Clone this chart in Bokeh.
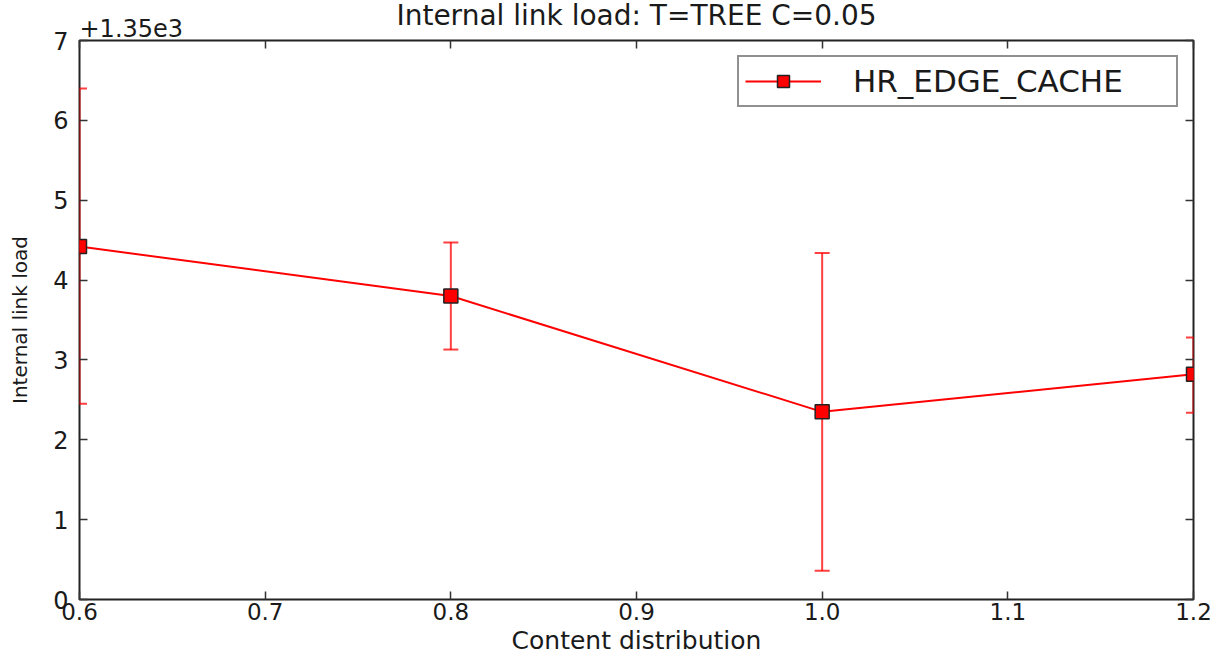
from bokeh.plotting import figure
from bokeh.models import (Range1d, LinearAxis, FixedTicker, PrintfTickFormatter,
                          Title, Legend, LegendItem, ColumnDataSource)
from bokeh.embed import file_html
from bokeh.resources import INLINE

# ---- data ----
offset = 1350.0
x_vals = [0.6, 0.8, 1.0, 1.2]
y_raw = [1354.42, 1353.80, 1352.35, 1352.82]
y_upper_raw = [1356.40, 1354.47, 1354.34, 1353.28]
y_lower_raw = [1352.45, 1353.13, 1350.36, 1352.34]
x_ticks = [0.6, 0.7, 0.8, 0.9, 1.0, 1.1, 1.2]
y_ticks = [0, 1, 2, 3, 4, 5, 6, 7]
series_name = "HR_EDGE_CACHE"
offset_text = "+1.35e3"

y_vals = [v - offset for v in y_raw]
y_up = [v - offset for v in y_upper_raw]
y_lo = [v - offset for v in y_lower_raw]

FONT = "DejaVu Sans"
RED = "#ff0000"
INK = "#1a1a1a"

p = figure(width=1217, height=661, output_backend="svg", toolbar_location=None,
           x_range=Range1d(0.6, 1.2), y_range=Range1d(0, 7),
           min_border_left=79, min_border_right=24, min_border_top=40, min_border_bottom=62)
p.outline_line_color = "#222222"
p.outline_line_width = 2
p.grid.visible = False
p.background_fill_color = "white"
p.border_fill_color = "white"

p.title.text = "Internal link load: T=TREE C=0.05"
p.title.align = "center"
p.title.text_font = FONT
p.title.text_font_size = "28px"
p.title.text_font_style = "normal"
p.title.text_color = INK
p.title.offset = 0
p.title.standoff = -39

for ax in (p.xaxis[0], p.yaxis[0]):
    ax.axis_line_color = None
    ax.major_tick_in = 8
    ax.major_tick_out = 0
    ax.minor_tick_line_color = None
    ax.major_tick_line_color = "#333333"
    ax.major_tick_line_width = 1.5
    ax.major_label_text_font = FONT
    ax.major_label_text_font_size = "24px"
    ax.major_label_text_color = INK
    ax.axis_label_text_font = FONT
    ax.axis_label_text_font_style = "normal"
    ax.axis_label_text_color = INK

p.xaxis[0].ticker = FixedTicker(ticks=x_ticks)
p.xaxis[0].formatter = PrintfTickFormatter(format="%.1f")
p.xaxis[0].axis_label = "Content distribution"
p.xaxis[0].axis_label_text_font_size = "25px"
p.xaxis[0].major_label_text_font_size = "23px"
p.xaxis[0].major_label_standoff = 3
p.xaxis[0].axis_label_standoff = 3

p.yaxis[0].ticker = FixedTicker(ticks=y_ticks)
p.yaxis[0].axis_label = "Internal link load"
p.yaxis[0].axis_label_text_font_size = "20px"
p.yaxis[0].major_label_standoff = 11
p.yaxis[0].axis_label_standoff = 18

# mirrored ticks on top and right (no labels)
top = LinearAxis(ticker=FixedTicker(ticks=x_ticks),
                 major_label_overrides={t: "" for t in x_ticks},
                 major_label_standoff=0,
                 axis_line_color=None, major_tick_in=8, major_tick_out=0,
                 minor_tick_line_color=None, major_tick_line_color="#333333",
                 major_tick_line_width=1.5)
right = LinearAxis(ticker=FixedTicker(ticks=y_ticks),
                   major_label_overrides={t: "" for t in y_ticks},
                   major_label_standoff=0,
                   axis_line_color=None, major_tick_in=8, major_tick_out=0,
                   minor_tick_line_color=None, major_tick_line_color="#333333",
                   major_tick_line_width=1.5)
p.add_layout(top, "above")
p.add_layout(right, "right")

# axis offset text, left-aligned with the frame
p.add_layout(Title(text=offset_text, align="left", offset=0, standoff=8,
                   text_font=FONT, text_font_size="24px", text_font_style="normal",
                   text_color=INK), "above")

src = ColumnDataSource(dict(x=x_vals, y=y_vals, up=y_up, lo=y_lo))

# error bars
p.segment(x0="x", y0="lo", x1="x", y1="up", source=src, line_color=RED, line_width=2, line_alpha=0.75)
p.scatter(x="x", y="up", source=src, marker="dash", size=15, line_color=RED, line_width=2, line_alpha=0.75)
p.scatter(x="x", y="lo", source=src, marker="dash", size=15, line_color=RED, line_width=2, line_alpha=0.75)

line = p.line(x="x", y="y", source=src, line_color=RED, line_width=2)
pts = p.scatter(x="x", y="y", source=src, marker="square", size=14,
                fill_color=RED, line_color="#222222", line_width=1.5)

legend = Legend(items=[LegendItem(label=series_name, renderers=[line, pts])],
                location="top_right", margin=15)
legend.border_line_color = "#222222"
legend.border_line_width = 2
legend.label_text_font = FONT
legend.label_text_font_size = "31px"
legend.label_text_color = INK
legend.glyph_width = 76
legend.glyph_height = 30
legend.label_height = 30
legend.label_width = 317
legend.label_standoff = 32
legend.padding = 6
legend.spacing = 0
legend.background_fill_alpha = 1.0
p.add_layout(legend, "center")

open("out.html", "w").write(file_html(p, INLINE))
